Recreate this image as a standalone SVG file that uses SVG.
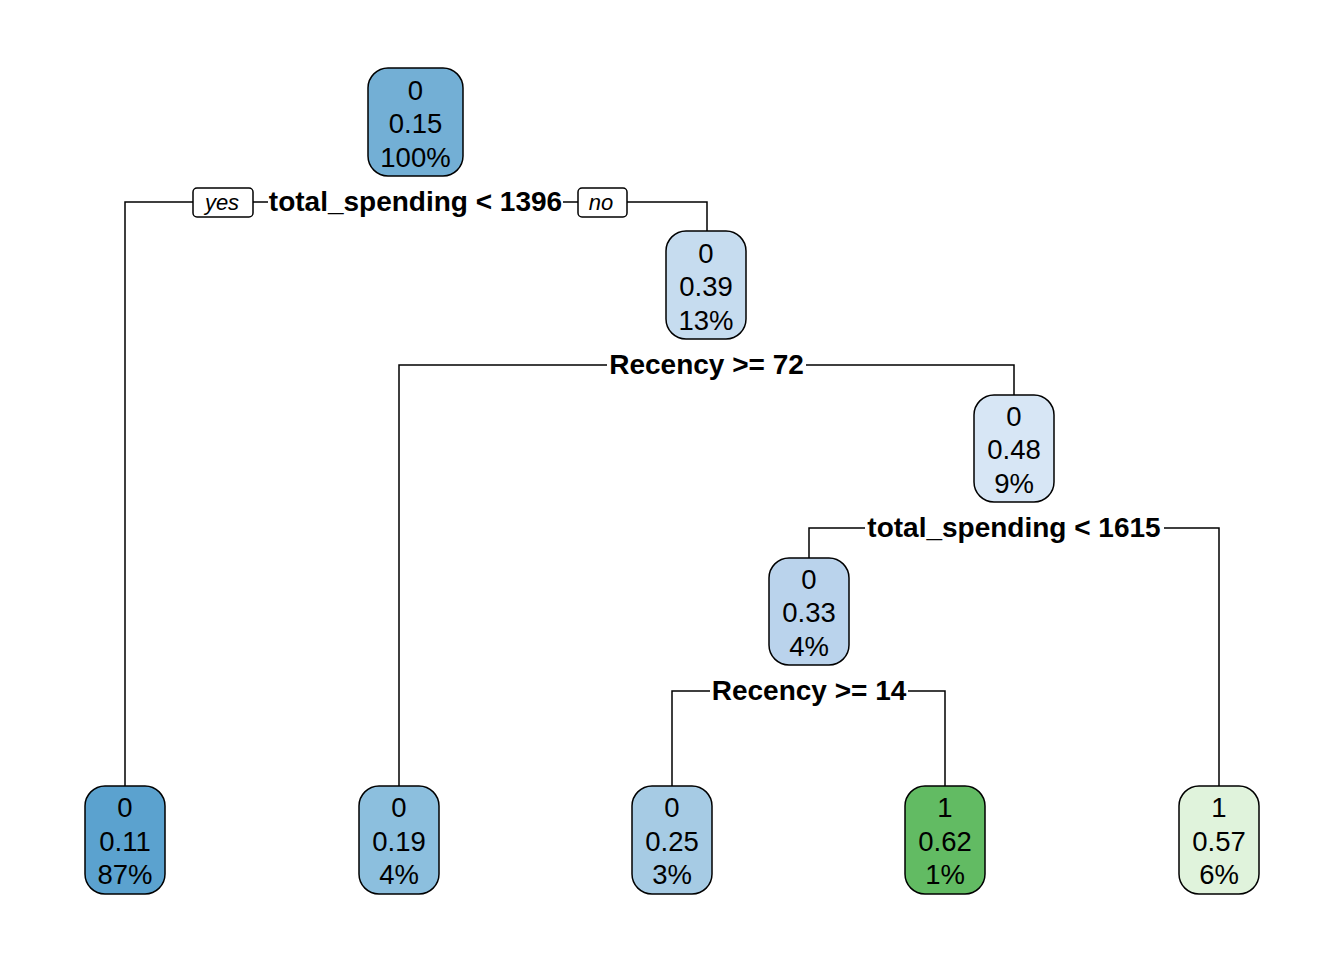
<svg xmlns="http://www.w3.org/2000/svg" width="1344" height="960" viewBox="0 0 1344 960">
<style>
.box{stroke:#000;stroke-width:1.5}
.t{font-family:"Liberation Sans",Arial,sans-serif;font-size:27.5px;text-anchor:middle;fill:#000}
.s{font-family:"Liberation Sans",Arial,sans-serif;font-size:28px;font-weight:bold;text-anchor:middle;fill:#000}
.yn{font-family:"Liberation Sans",Arial,sans-serif;font-size:22px;font-style:italic;text-anchor:middle;fill:#000}
.c{stroke:#000;stroke-width:1.5;fill:none}
</style>
<rect width="1344" height="960" fill="#fff"/>
<g id="connectors">
<path class="c" d="M125 786V202H193M253 202H268M563 202H578M627 202H707V231"/>
<path class="c" d="M399 786V365H607M806 365H1014V395"/>
<path class="c" d="M809 558V528H865M1164 528H1219V786"/>
<path class="c" d="M672 786V691H710M908 691H945V786"/>
<rect x="193" y="188" width="60" height="29" rx="4" fill="#fff" class="box" stroke-width="1.2"/>
<text class="yn" x="222" y="210">yes</text>
<rect x="578" y="188" width="49" height="29" rx="4" fill="#fff" class="box" stroke-width="1.2"/>
<text class="yn" x="601" y="210">no</text>
<text class="s" x="415.5" y="211">total_spending &lt; 1396</text>
<text class="s" x="706.5" y="374">Recency &gt;= 72</text>
<text class="s" x="1014" y="537">total_spending &lt; 1615</text>
<text class="s" x="809" y="700">Recency &gt;= 14</text>
</g>
<g id="n1"><rect class="box" x="368" y="68" width="95" height="108" rx="20" fill="#73afd5"/>
<text class="t" x="415.5" y="99.5">0</text><text class="t" x="415.5" y="133">0.15</text><text class="t" x="415.5" y="166.5">100%</text></g>
<g id="n3"><rect class="box" x="666" y="231" width="80" height="108" rx="20" fill="#c6dcef"/>
<text class="t" x="706" y="262.5">0</text><text class="t" x="706" y="296">0.39</text><text class="t" x="706" y="329.5">13%</text></g>
<g id="n7"><rect class="box" x="974" y="395" width="80" height="107" rx="20" fill="#d7e6f5"/>
<text class="t" x="1014" y="425.5">0</text><text class="t" x="1014" y="459">0.48</text><text class="t" x="1014" y="492.5">9%</text></g>
<g id="n14"><rect class="box" x="769" y="558" width="80" height="107" rx="20" fill="#bad3ec"/>
<text class="t" x="809" y="588.5">0</text><text class="t" x="809" y="622">0.33</text><text class="t" x="809" y="655.5">4%</text></g>
<g id="n2"><rect class="box" x="85" y="786" width="80" height="108" rx="20" fill="#5ba2cf"/>
<text class="t" x="125" y="817">0</text><text class="t" x="125" y="850.5">0.11</text><text class="t" x="125" y="884">87%</text></g>
<g id="n6"><rect class="box" x="359" y="786" width="80" height="108" rx="20" fill="#8cbfde"/>
<text class="t" x="399" y="817">0</text><text class="t" x="399" y="850.5">0.19</text><text class="t" x="399" y="884">4%</text></g>
<g id="n28"><rect class="box" x="632" y="786" width="80" height="108" rx="20" fill="#a6cbe4"/>
<text class="t" x="672" y="817">0</text><text class="t" x="672" y="850.5">0.25</text><text class="t" x="672" y="884">3%</text></g>
<g id="n29"><rect class="box" x="905" y="786" width="80" height="108" rx="20" fill="#62bb63"/>
<text class="t" x="945" y="817">1</text><text class="t" x="945" y="850.5">0.62</text><text class="t" x="945" y="884">1%</text></g>
<g id="n15"><rect class="box" x="1179" y="786" width="80" height="108" rx="20" fill="#e0f3dc"/>
<text class="t" x="1219" y="817">1</text><text class="t" x="1219" y="850.5">0.57</text><text class="t" x="1219" y="884">6%</text></g>
</svg>
